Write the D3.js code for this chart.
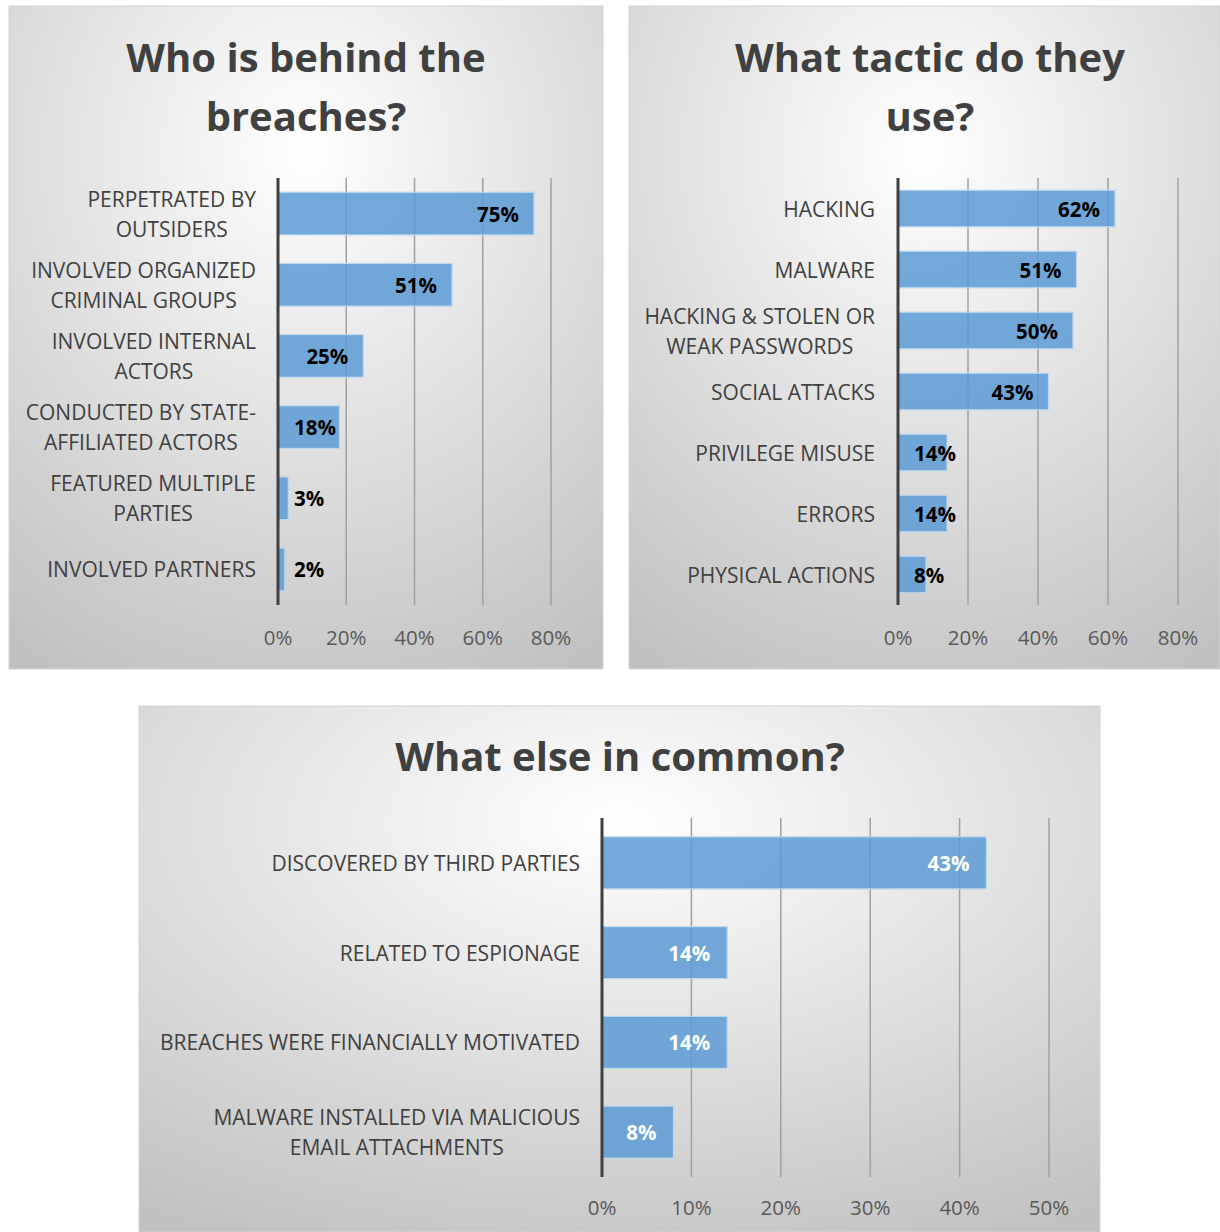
<!DOCTYPE html>
<html>
<head>
<meta charset="utf-8">
<script src="https://cdn.jsdelivr.net/npm/d3@7"></script>
<style>
  body { margin: 0; background: #fff; }
  text { font-family: "Open Sans", sans-serif; }
</style>
</head>
<body>
<div id="chart"></div>
<script>
// --- data ---
var whoCategories = [["PERPETRATED BY", "OUTSIDERS"], ["INVOLVED ORGANIZED", "CRIMINAL GROUPS"],
  ["INVOLVED INTERNAL", "ACTORS"], ["CONDUCTED BY STATE-", "AFFILIATED ACTORS"],
  ["FEATURED MULTIPLE", "PARTIES"], ["INVOLVED PARTNERS"]];
var whoValues = [75, 51, 25, 18, 3, 2];
var whoTicks = [0, 20, 40, 60, 80];

var tacticCategories = [["HACKING"], ["MALWARE"], ["HACKING & STOLEN OR", "WEAK PASSWORDS"],
  ["SOCIAL ATTACKS"], ["PRIVILEGE MISUSE"], ["ERRORS"], ["PHYSICAL ACTIONS"]];
var tacticValues = [62, 51, 50, 43, 14, 14, 8];
var tacticTicks = [0, 20, 40, 60, 80];

var commonCategories = [["DISCOVERED BY THIRD PARTIES"], ["RELATED TO ESPIONAGE"],
  ["BREACHES WERE FINANCIALLY MOTIVATED"], ["MALWARE INSTALLED VIA MALICIOUS", "EMAIL ATTACHMENTS"]];
var commonValues = [43, 14, 14, 8];
var commonTicks = [0, 10, 20, 30, 40, 50];

var svg = d3.select("#chart").append("svg")
  .attr("width", 1220)
  .attr("height", 1232);

var defs = svg.append("defs");
var grad = defs.append("radialGradient")
  .attr("id", "bg")
  .attr("cx", "50%").attr("cy", "22%").attr("r", "90%");
grad.append("stop").attr("offset", "0%").attr("stop-color", "#ffffff");
grad.append("stop").attr("offset", "40%").attr("stop-color", "#e6e6e6");
grad.append("stop").attr("offset", "100%").attr("stop-color", "#c0c0c0");

function drawPanel(opt) {
  var g = svg.append("g").attr("transform", "translate(" + opt.x + "," + opt.y + ")");

  g.append("rect")
    .attr("width", opt.w).attr("height", opt.h)
    .attr("fill", "url(#bg)")
    .attr("stroke", "#d4d4d4");

  // title
  opt.title.forEach(function(line, i) {
    g.append("text")
      .attr("x", opt.titleX)
      .attr("y", opt.titleY + i * 59)
      .attr("text-anchor", "middle")
      .attr("dominant-baseline", "central")
      .attr("font-size", "40px")
      .attr("font-weight", "bold")
      .attr("fill", "#404040")
      .text(line);
  });

  var x = d3.scaleLinear()
    .domain([0, opt.max])
    .range([opt.left, opt.right]);

  var y = d3.scaleBand()
    .domain(d3.range(opt.values.length))
    .range([opt.top, opt.bottom])
    .paddingInner(opt.pad)
    .paddingOuter(opt.pad / 2);

  // gridlines
  g.selectAll(".grid")
    .data(opt.ticks.slice(1))
    .enter().append("line")
    .attr("x1", function(d) { return x(d); })
    .attr("x2", function(d) { return x(d); })
    .attr("y1", opt.top)
    .attr("y2", opt.bottom)
    .attr("stroke", "#a0a0a0")
    .attr("stroke-width", 1.5);

  // tick labels
  g.selectAll(".tick")
    .data(opt.ticks)
    .enter().append("text")
    .attr("x", function(d) { return x(d); })
    .attr("y", opt.tickY)
    .attr("text-anchor", "middle")
    .attr("dominant-baseline", "central")
    .attr("font-size", "20.5px")
    .attr("fill", "#595959")
    .text(function(d) { return d + "%"; });

  // bars
  g.selectAll(".bar")
    .data(opt.values)
    .enter().append("rect")
    .attr("x", x(0))
    .attr("y", function(d, i) { return y(i); })
    .attr("width", function(d) { return x(d) - x(0); })
    .attr("height", y.bandwidth())
    .attr("fill", "#5b9bd5")
    .attr("fill-opacity", 0.85)
    .attr("stroke", "#bdd7ee")
    .attr("stroke-width", 1.2);

  // axis line
  g.append("line")
    .attr("x1", x(0)).attr("x2", x(0))
    .attr("y1", opt.top).attr("y2", opt.bottom)
    .attr("stroke", "#404040")
    .attr("stroke-width", 3);

  // value labels (inside end, pushed out if too small)
  g.selectAll(".val")
    .data(opt.values)
    .enter().append("text")
    .attr("y", function(d, i) { return y(i) + y.bandwidth() / 2; })
    .attr("dominant-baseline", "central")
    .attr("font-size", "20.5px")
    .attr("font-weight", "bold")
    .attr("fill", opt.labelColor)
    .text(function(d) { return d + "%"; })
    .each(function(d) {
      var w = this.getComputedTextLength();
      var lx = Math.max(x(0) + 16, x(d) - opt.labelPad - w);
      d3.select(this).attr("x", lx);
    });

  // category labels: block right-aligned, lines centred in block
  opt.categories.forEach(function(lines, i) {
    var cy = y(i) + y.bandwidth() / 2;
    var texts = lines.map(function(line, j) {
      return g.append("text")
        .attr("y", cy + (j - (lines.length - 1) / 2) * 30)
        .attr("dominant-baseline", "central")
        .attr("text-anchor", "middle")
        .attr("font-size", "21px")
        .attr("fill", "#404040")
        .text(line);
    });
    var bw = d3.max(texts, function(t) { return t.node().getComputedTextLength(); });
    texts.forEach(function(t) { t.attr("x", opt.labelRight - bw / 2); });
  });
}

drawPanel({
  x: 9, y: 6, w: 594, h: 663,
  title: ["Who is behind the", "breaches?"], titleX: 297, titleY: 50,
  categories: whoCategories, values: whoValues, ticks: whoTicks, max: 80,
  left: 269, right: 542, top: 172, bottom: 599, pad: 0.4,
  tickY: 631, labelRight: 247, labelColor: "#000", labelPad: 15
});

drawPanel({
  x: 629, y: 6, w: 591, h: 663,
  title: ["What tactic do they", "use?"], titleX: 301, titleY: 50,
  categories: tacticCategories, values: tacticValues, ticks: tacticTicks, max: 80,
  left: 269, right: 549, top: 172, bottom: 599, pad: 0.4,
  tickY: 631, labelRight: 246, labelColor: "#000", labelPad: 15
});

drawPanel({
  x: 139, y: 706, w: 961, h: 526,
  title: ["What else in common?"], titleX: 481, titleY: 49,
  categories: commonCategories, values: commonValues, ticks: commonTicks, max: 50,
  left: 463, right: 910, top: 112, bottom: 471, pad: 0.42,
  tickY: 501, labelRight: 441, labelColor: "#fff", labelPad: 17
});
</script>
</body>
</html>
